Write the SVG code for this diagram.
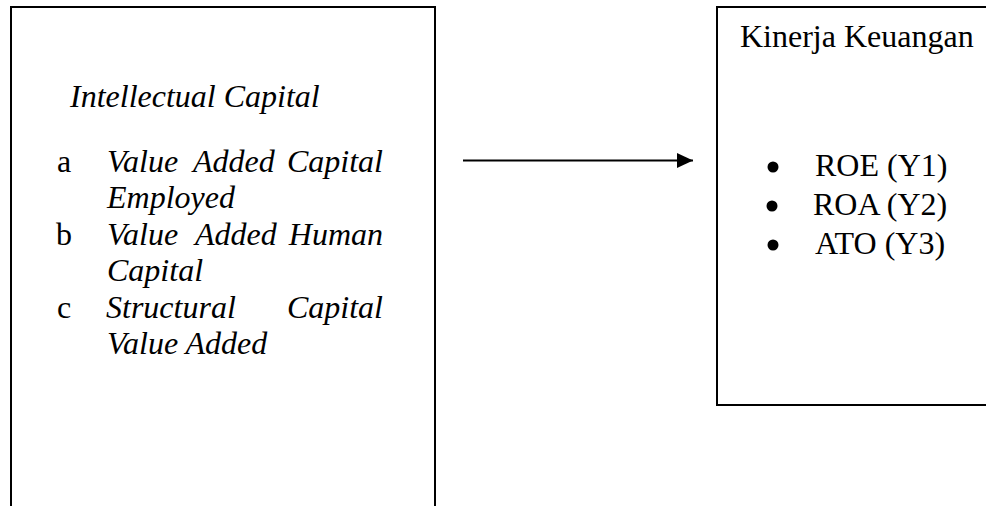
<svg xmlns="http://www.w3.org/2000/svg" width="986" height="506" viewBox="0 0 986 506">
<defs>
<style>
.box{fill:#fff;stroke:#000;stroke-width:2}
.t{font-family:"Liberation Serif","Times New Roman",serif;font-size:32px;fill:#000}
.i{font-style:italic}
.conn{stroke:#000;stroke-width:2.2;fill:none}
.dot{fill:#000}
</style>
<marker id="ah" markerWidth="16" markerHeight="15" refX="16" refY="7.5" orient="auto" markerUnits="userSpaceOnUse" viewBox="0 0 16 15">
<path d="M0,0 L16,7.5 L0,15 Z" fill="#000"/>
</marker>
</defs>
<rect width="986" height="506" fill="#fff"/>
<g id="intellectual-capital">
<rect class="box" x="11" y="7" width="424" height="520" stroke-width="1.6"/>
<text class="t i" x="70" y="107">Intellectual Capital</text>
<text class="t" x="57" y="172">a</text>
<text class="t i" x="107" y="172">Value</text>
<text class="t i" x="193" y="172">Added</text>
<text class="t i" x="383" y="172" text-anchor="end">Capital</text>
<text class="t i" x="107" y="208">Employed</text>
<text class="t" x="56" y="245">b</text>
<text class="t i" x="107" y="245">Value</text>
<text class="t i" x="195" y="245">Added</text>
<text class="t i" x="383" y="245" text-anchor="end">Human</text>
<text class="t i" x="107" y="281">Capital</text>
<text class="t" x="57" y="318">c</text>
<text class="t i" x="106" y="318">Structural</text>
<text class="t i" x="383" y="318" text-anchor="end">Capital</text>
<text class="t i" x="107" y="354">Value Added</text>
</g>
<g id="kinerja-keuangan">
<rect class="box" x="717" y="7" width="300" height="398"/>
<text class="t" x="740" y="47">Kinerja Keuangan</text>
<circle class="dot" cx="773" cy="167" r="5.5"/>
<text class="t" x="815" y="176">ROE (Y1)</text>
<circle class="dot" cx="772" cy="206" r="5.5"/>
<text class="t" x="813" y="215">ROA (Y2)</text>
<circle class="dot" cx="773" cy="245" r="5.5"/>
<text class="t" x="815" y="254">ATO (Y3)</text>
</g>
<g id="connectors">
<line class="conn" x1="463" y1="160.5" x2="693" y2="160.5" marker-end="url(#ah)"/>
</g>
</svg>
